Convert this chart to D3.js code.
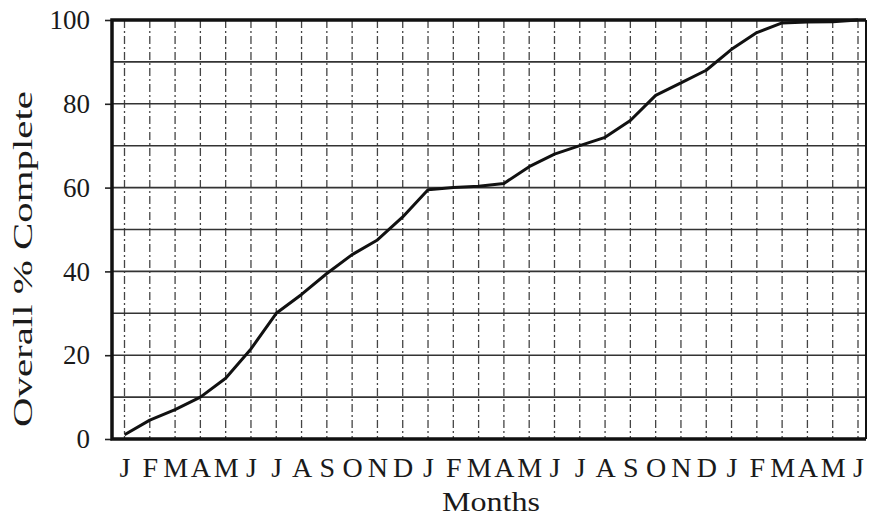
<!doctype html>
<html>
<head>
<meta charset="utf-8">
<script src="https://d3js.org/d3.v7.min.js"></script>
<style>
  body { margin: 0; background: #fff; }
  text { font-family: "Liberation Serif", "Times New Roman", serif; fill: #1a1a1a; }
</style>
</head>
<body>
<svg id="chart" width="869" height="517"></svg>
<script>
// month initials, Jan of year 1 through Jun of year 3
var months = ["J","F","M","A","M","J","J","A","S","O","N","D",
              "J","F","M","A","M","J","J","A","S","O","N","D",
              "J","F","M","A","M","J"];
// overall % complete at each month
var complete = [1, 4.5, 7, 10, 14.5, 21.5, 30, 34.5, 39.5, 44, 47.5, 53,
                59.5, 60, 60.3, 61, 65, 68, 70, 72, 76, 82, 85, 88,
                93, 97, 99.3, 99.5, 99.6, 100];
var yTicks = [0, 20, 40, 60, 80, 100];
var yGrid = [10, 20, 30, 40, 50, 60, 70, 80, 90];

var svg = d3.select("#chart");
var plotL = 112, plotR = 866, plotT = 20, plotB = 439;

var x = d3.scaleLinear().domain([0, months.length - 1]).range([124.5, 858]);
var y = d3.scaleLinear().domain([0, 100]).range([plotB, plotT]);

// vertical dashed month lines
svg.append("g")
   .selectAll("line")
   .data(months)
   .enter().append("line")
   .attr("x1", function(d, i) { return x(i); })
   .attr("x2", function(d, i) { return x(i); })
   .attr("y1", plotT)
   .attr("y2", plotB)
   .attr("stroke", "#444")
   .attr("stroke-width", 1.3)
   .attr("stroke-dasharray", "8,3,2,3");

// horizontal grid
svg.append("g")
   .selectAll("line")
   .data(yGrid)
   .enter().append("line")
   .attr("x1", plotL)
   .attr("x2", plotR)
   .attr("y1", function(d) { return y(d); })
   .attr("y2", function(d) { return y(d); })
   .attr("stroke", "#333")
   .attr("stroke-width", 1.6);

// y axis ticks + labels
var yAxis = svg.append("g")
   .attr("transform", "translate(" + plotL + ",0)")
   .call(d3.axisLeft(y).tickValues(yTicks).tickSize(7).tickPadding(15));
yAxis.select(".domain").remove();
yAxis.selectAll(".tick line").attr("stroke", "#222").attr("stroke-width", 1.6);
yAxis.selectAll(".tick text")
   .style("font-family", "Liberation Serif, serif")
   .style("font-size", "27px")
   .attr("fill", "#1a1a1a");

// x axis labels
var xAxis = svg.append("g")
   .attr("transform", "translate(0," + plotB + ")")
   .call(d3.axisBottom(x)
     .tickValues(d3.range(months.length))
     .tickFormat(function(i) { return months[i]; })
     .tickSize(0)
     .tickPadding(20));
xAxis.select(".domain").remove();
xAxis.selectAll(".tick text")
   .style("font-family", "Liberation Serif, serif")
   .style("font-size", "28px")
   .attr("dy", "0.66em")
   .attr("fill", "#1a1a1a");

// frame
svg.append("path")
   .attr("d", "M" + plotR + "," + plotT + "H" + plotL + "V" + plotB + "H" + plotR)
   .attr("fill", "none")
   .attr("stroke", "#111")
   .attr("stroke-width", 3.5);
svg.append("line")
   .attr("x1", plotR).attr("x2", plotR)
   .attr("y1", plotT).attr("y2", plotB)
   .attr("stroke", "#111")
   .attr("stroke-width", 2);

// progress curve
var line = d3.line()
   .x(function(d, i) { return x(i); })
   .y(function(d) { return y(d); });

svg.append("path")
   .datum(complete)
   .attr("d", line)
   .attr("fill", "none")
   .attr("stroke", "#111")
   .attr("stroke-width", 3)
   .attr("stroke-linejoin", "round");

// axis titles
svg.append("text")
   .attr("transform", "translate(32,259) rotate(-90)")
   .attr("text-anchor", "middle")
   .attr("font-size", "27px")
   .attr("textLength", 336)
   .attr("lengthAdjust", "spacingAndGlyphs")
   .text("Overall % Complete");

svg.append("text")
   .attr("x", 491)
   .attr("y", 511)
   .attr("text-anchor", "middle")
   .attr("font-size", "28px")
   .attr("textLength", 98)
   .attr("lengthAdjust", "spacingAndGlyphs")
   .text("Months");
</script>
</body>
</html>
